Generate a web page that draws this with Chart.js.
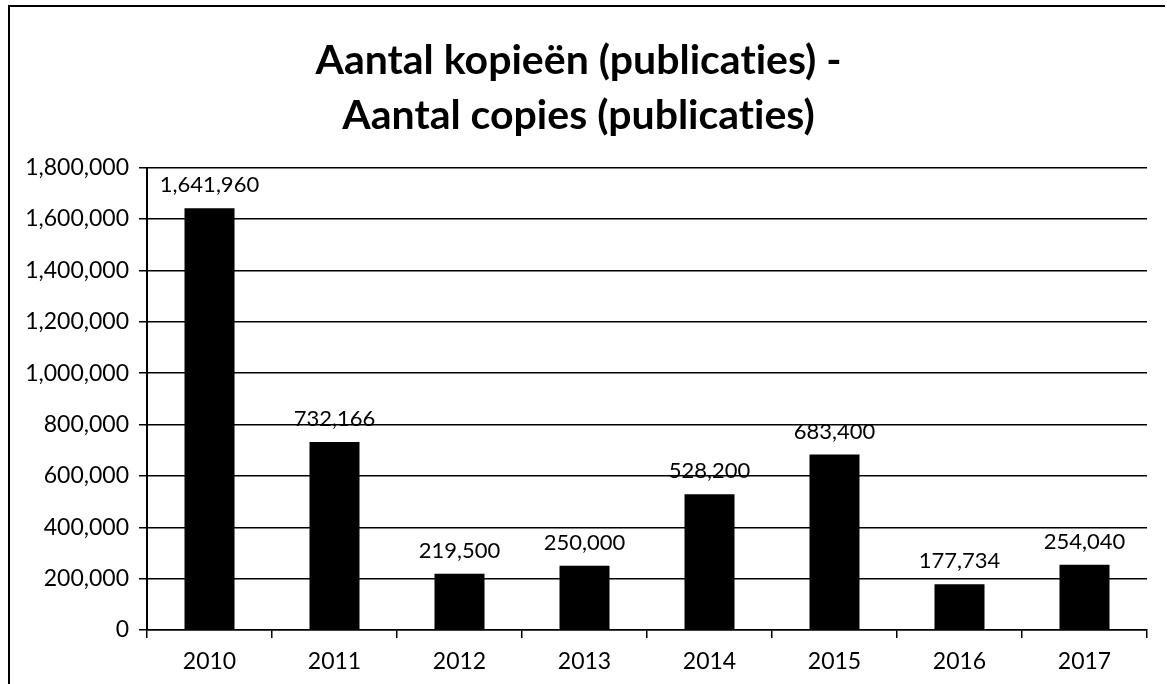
<!DOCTYPE html>
<html lang="nl">
<head>
  <meta charset="UTF-8">
  <title>Aantal kopieën (publicaties)</title>
  <script src="https://cdn.jsdelivr.net/npm/chart.js"></script>
  <style>
    html, body {
      margin: 0;
      padding: 0;
      background: #fff;
    }

    .frame {
      position: absolute;
      left: 8px;
      top: 5px;
      width: 1157px;
      height: 679px;
      border-left: 2px solid #000;
      border-top: 2px solid #000;
      box-sizing: border-box;
    }

    .chart-box {
      position: absolute;
      left: 10px;
      top: 7px;
      width: 1155px;
      height: 677px;
    }
  </style>
</head>
<body>
  <div class="frame"></div>
  <div class="chart-box">
    <canvas id="chartKopieen"></canvas>
  </div>

  <script>
    const jaren = ['2010', '2011', '2012', '2013', '2014', '2015', '2016', '2017'];
    const kopieen = [1641960, 732166, 219500, 250000, 528200, 683400, 177734, 254040];
    const titelRegels = ['Aantal kopieën (publicaties) -', 'Aantal copies (publicaties)'];
    const yMax = 1800000;
    const yStap = 200000;

    const fmt = v => v.toLocaleString('en-US');

    // geen ligaturen (Lato maakt anders "ti" aan elkaar)
    const geenLigaturen = {
      id: 'geenLigaturen',
      beforeDraw(chart) {
        chart.ctx.textRendering = 'optimizeSpeed';
      }
    };

    // waarden boven de staven
    const labelsBoven = {
      id: 'labelsBoven',
      afterDatasetsDraw(chart) {
        const ctx = chart.ctx;
        const meta = chart.getDatasetMeta(0);
        ctx.save();
        ctx.font = '22px Lato';
        ctx.fillStyle = '#000';
        ctx.textAlign = 'center';
        ctx.textBaseline = 'middle';
        meta.data.forEach((bar, i) => {
          ctx.fillText(fmt(kopieen[i]), bar.x, bar.y - 23);
        });
        ctx.restore();
      }
    };

    new Chart(document.getElementById('chartKopieen'), {
      type: 'bar',
      data: {
        labels: jaren,
        datasets: [{
          data: kopieen,
          backgroundColor: '#000',
          barPercentage: 0.4,
          categoryPercentage: 1
        }]
      },
      options: {
        responsive: true,
        maintainAspectRatio: false,
        animation: false,
        layout: { padding: { left: 0, right: 18, top: 0, bottom: 0 } },
        plugins: {
          legend: { display: false },
          tooltip: { enabled: false },
          title: {
            display: true,
            text: titelRegels,
            color: '#000',
            font: { family: 'Lato', size: 41, weight: 'bold', lineHeight: 1.35 },
            padding: { top: 26, bottom: 24 }
          }
        },
        scales: {
          x: {
            grid: {
              offset: true,
              drawOnChartArea: false,
              drawTicks: true,
              tickLength: 8,
              color: '#000',
              lineWidth: 1.5
            },
            border: { color: '#000', width: 1.5 },
            ticks: {
              color: '#000',
              font: { family: 'Lato', size: 23 },
              padding: 10
            },
            afterFit: s => { s.height = 54; }
          },
          y: {
            min: 0,
            max: yMax,
            grid: {
              color: '#000',
              lineWidth: 1.5,
              drawTicks: true,
              tickLength: 8
            },
            border: { color: '#000', width: 2 },
            ticks: {
              stepSize: yStap,
              color: '#000',
              font: { family: 'Lato', size: 23 },
              padding: 10,
              callback: v => fmt(v)
            },
            afterFit: s => { s.width = 137; }
          }
        }
      },
      plugins: [geenLigaturen, labelsBoven]
    });
  </script>
</body>
</html>
